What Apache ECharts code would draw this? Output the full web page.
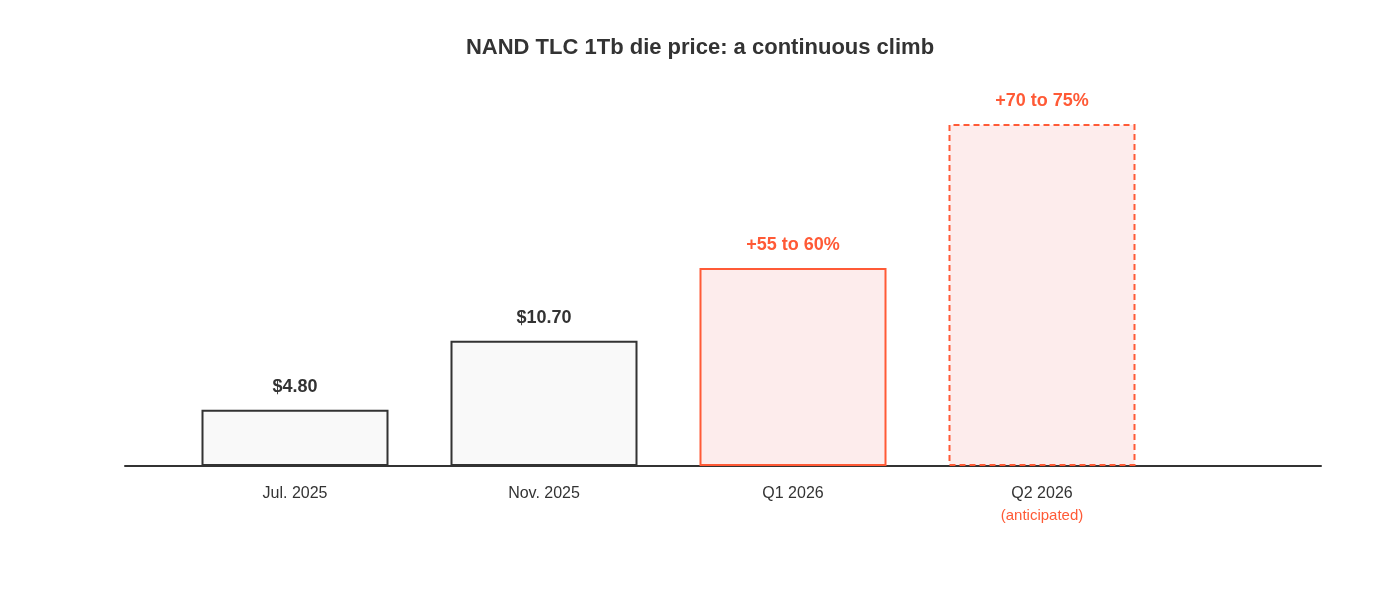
<!DOCTYPE html>
<html>
<head>
    <meta charset="utf-8" />
    <title>NAND TLC 1Tb die price</title>
    <script src="https://cdn.jsdelivr.net/npm/echarts@6/dist/echarts.min.js"></script>
</head>
<body style="margin:0">
    <div id="main" style="width:1400px;height:591px;"></div>
    <script type="text/javascript">
        const categories = ['Jul. 2025', 'Nov. 2025', 'Q1 2026', 'Q2 2026'];
        const prices = [4.8, 10.7, 16.9, 29.2];
        const labels = ['$4.80', '$10.70', '+55 to 60%', '+70 to 75%'];
        const orange = '#ff5a36';

        let myChart = echarts.init(document.getElementById('main'));

        let data = prices.map((v, i) => {
            let future = i >= 2;
            return {
                value: v,
                itemStyle: {
                    color: future ? '#fdecec' : '#f9f9f9',
                    borderColor: future ? orange : '#333',
                    borderWidth: 2,
                    borderType: i === 3 ? [6, 4] : 'solid'
                },
                label: {
                    show: true, position: 'top', distance: 14,
                    formatter: labels[i],
                    color: future ? orange : '#333',
                    fontSize: 18, fontWeight: 'bold'
                }
            };
        });

        let option = {
            textStyle: { fontFamily: 'Liberation Sans, Arial, sans-serif' },
            title: {
                text: 'NAND TLC 1Tb die price: a continuous climb',
                left: 'center', top: 32,
                textStyle: { fontSize: 22, fontWeight: 'bold', color: '#333' }
            },
            grid: [
                { left: 170.5, right: 233.5, top: 124, bottom: 125 },
                { left: 125, right: 79, top: 124, bottom: 125 }
            ],
            xAxis: [{
                type: 'category', data: categories, gridIndex: 0,
                axisLine: { show: false }, axisTick: { show: false },
                axisLabel: {
                    margin: 20, fontSize: 16, color: '#333',
                    formatter: (v) => v === 'Q2 2026' ? v + '\n{a|(anticipated)}' : v,
                    rich: { a: { color: orange, fontSize: 15, padding: [6, 0, 0, 0] } }
                }
            }, {
                type: 'value', gridIndex: 1, min: 0, max: 1,
                axisLine: { show: true, lineStyle: { color: '#333', width: 2 } },
                axisTick: { show: false }, axisLabel: { show: false }, splitLine: { show: false }
            }],
            yAxis: [
                { type: 'value', gridIndex: 0, min: 0, max: 29.2, show: false },
                { type: 'value', gridIndex: 1, min: 0, max: 1, show: false }
            ],
            series: [{
                type: 'bar', data: data, barWidth: 187, z: 3,
                xAxisIndex: 0, yAxisIndex: 0
            }]
        };
        myChart.setOption(option);
    </script>
</body>
</html>
